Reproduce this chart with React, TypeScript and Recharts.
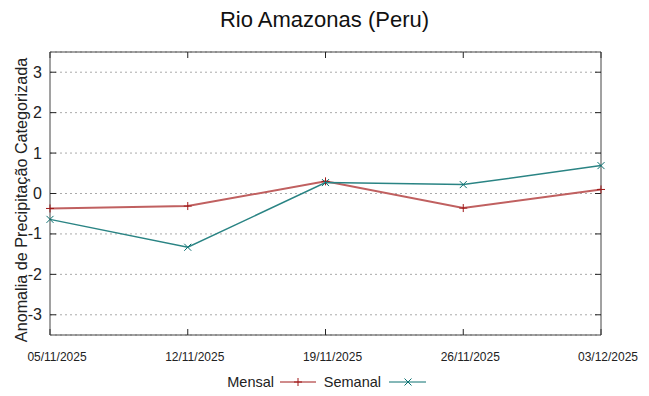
import React from 'react';
import { LineChart, Line, XAxis, YAxis, CartesianGrid, Legend } from 'recharts';

const dates = ['05/11/2025', '12/11/2025', '19/11/2025', '26/11/2025', '03/12/2025'];
const mensal = [-0.37, -0.31, 0.3, -0.36, 0.1];
const semanal = [-0.64, -1.33, 0.27, 0.22, 0.69];
const yTicks = [-3, -2, -1, 0, 1, 2, 3];
const seriesNames = ['Mensal', 'Semanal'];
const yLabel = 'Anomalia de Precipitação Categorizada';
const title = 'Rio Amazonas (Peru)';

const data = dates.map((d, i) => ({ date: d, Mensal: mensal[i], Semanal: semanal[i] }));

const FONT = '"Liberation Sans", Arial, sans-serif';
const RED = '#c06060';
const RED_DARK = '#a01818';
const TEAL = '#2a8484';
const TEAL_DARK = '#0a7070';

const PlusDot = (props: any) => {
  const { cx, cy } = props;
  if (cx == null || cy == null) return null;
  const s = 4;
  return (
    <g>
      <line x1={cx - s} y1={cy} x2={cx + s} y2={cy} stroke={RED_DARK} strokeWidth={1} />
      <line x1={cx} y1={cy - s} x2={cx} y2={cy + s} stroke={RED_DARK} strokeWidth={1} />
    </g>
  );
};

const CrossDot = (props: any) => {
  const { cx, cy } = props;
  if (cx == null || cy == null) return null;
  const s = 3.5;
  return (
    <g>
      <line x1={cx - s} y1={cy - s} x2={cx + s} y2={cy + s} stroke={TEAL_DARK} strokeWidth={1} />
      <line x1={cx - s} y1={cy + s} x2={cx + s} y2={cy - s} stroke={TEAL_DARK} strokeWidth={1} />
    </g>
  );
};

const XTick = (props: any) => {
  const { x, y, payload } = props;
  return (
    <text x={x + 7} y={y + 10} textAnchor="middle" fontSize={12} fontFamily={FONT} fill="#222">
      {payload.value}
    </text>
  );
};

const YTick = (props: any) => {
  const { x, y, payload } = props;
  return (
    <text x={x} y={y + 5.5} textAnchor="end" fontSize={16} fontFamily={FONT} fill="#222">
      {payload.value}
    </text>
  );
};

const YLabel = (props: any) => {
  const vb = props.viewBox || { x: 0, y: 0, width: 50, height: 283 };
  const cx = 27;
  const cy = vb.y + vb.height / 2 + 6.5;
  return (
    <text transform={`translate(${cx},${cy}) rotate(-90)`} textAnchor="middle" fontSize={16.2} fontFamily={FONT} fill="#222">
      {yLabel}
    </text>
  );
};

const LegendContent = () => (
  <svg width={649} height={24} style={{ display: 'block' }}>
    <text x={274} y={17} textAnchor="end" fontSize={14.5} fontFamily={FONT} fill="#222">{seriesNames[0]}</text>
    <line x1={280} y1={12} x2={316} y2={12} stroke={RED_DARK} strokeWidth={1} />
    <line x1={294} y1={12} x2={302} y2={12} stroke={RED_DARK} strokeWidth={1} />
    <line x1={298} y1={8} x2={298} y2={16} stroke={RED_DARK} strokeWidth={1} />
    <text x={381} y={17} textAnchor="end" fontSize={14.5} fontFamily={FONT} fill="#222">{seriesNames[1]}</text>
    <line x1={389} y1={12} x2={426} y2={12} stroke={TEAL_DARK} strokeWidth={1} />
    <line x1={404.5} y1={8.5} x2={411.5} y2={15.5} stroke={TEAL_DARK} strokeWidth={1} />
    <line x1={404.5} y1={15.5} x2={411.5} y2={8.5} stroke={TEAL_DARK} strokeWidth={1} />
  </svg>
);

export default function App() {
  return (
    <div style={{ position: 'absolute', left: 0, top: 0, width: 649, height: 396, background: '#fff', fontFamily: FONT }}>
      <div style={{ position: 'absolute', left: 0, top: 7, width: 649, textAlign: 'center', fontSize: 22, color: '#111', fontFamily: FONT, lineHeight: '26px' }}>
        {title}
      </div>
      <LineChart width={649} height={396} data={data} margin={{ top: 50, right: 40, bottom: 31, left: 0 }}>
        <CartesianGrid vertical={false} horizontal stroke="#aaaaaa" strokeDasharray="2 3" yAxisId="left" xAxisId="bottom" />
        <XAxis
          dataKey="date"
          xAxisId="bottom"
          orientation="bottom"
          height={30}
          axisLine={{ stroke: '#444' }}
          tickLine={{ stroke: '#222' }}
          tickSize={-6}
          tickMargin={22}
          interval={0}
          tick={<XTick />}
        />
        <XAxis
          dataKey="date"
          xAxisId="top"
          orientation="top"
          height={2}
          axisLine={{ stroke: '#444' }}
          tickLine={{ stroke: '#222' }}
          tickSize={-6}
          interval={0}
          tick={() => <g />}
        />
        <YAxis
          yAxisId="left"
          domain={[-3.5, 3.5]}
          ticks={yTicks}
          width={50}
          axisLine={{ stroke: '#444' }}
          tickLine={{ stroke: '#222' }}
          tickSize={-6}
          tickMargin={14}
          tick={<YTick />}
          allowDataOverflow
          label={<YLabel />}
        />
        <YAxis
          yAxisId="right"
          orientation="right"
          domain={[-3.5, 3.5]}
          ticks={yTicks}
          width={8}
          axisLine={{ stroke: '#444' }}
          tickLine={{ stroke: '#222' }}
          tickSize={-6}
          allowDataOverflow
          tick={() => <g />}
        />
        <Legend
          layout="horizontal"
          verticalAlign="middle"
          align="center"
          content={<LegendContent />}
          wrapperStyle={{ position: 'absolute', left: 0, top: 370, width: 649, height: 24 }}
        />
        <Line
          type="linear"
          dataKey="Mensal"
          name={seriesNames[0]}
          xAxisId="bottom"
          yAxisId="left"
          stroke={RED}
          strokeWidth={2}
          dot={<PlusDot />}
          activeDot={false}
          isAnimationActive={false}
        />
        <Line
          type="linear"
          dataKey="Semanal"
          name={seriesNames[1]}
          xAxisId="bottom"
          yAxisId="left"
          stroke={TEAL}
          strokeWidth={1.5}
          dot={<CrossDot />}
          activeDot={false}
          isAnimationActive={false}
        />
      </LineChart>
    </div>
  );
}
